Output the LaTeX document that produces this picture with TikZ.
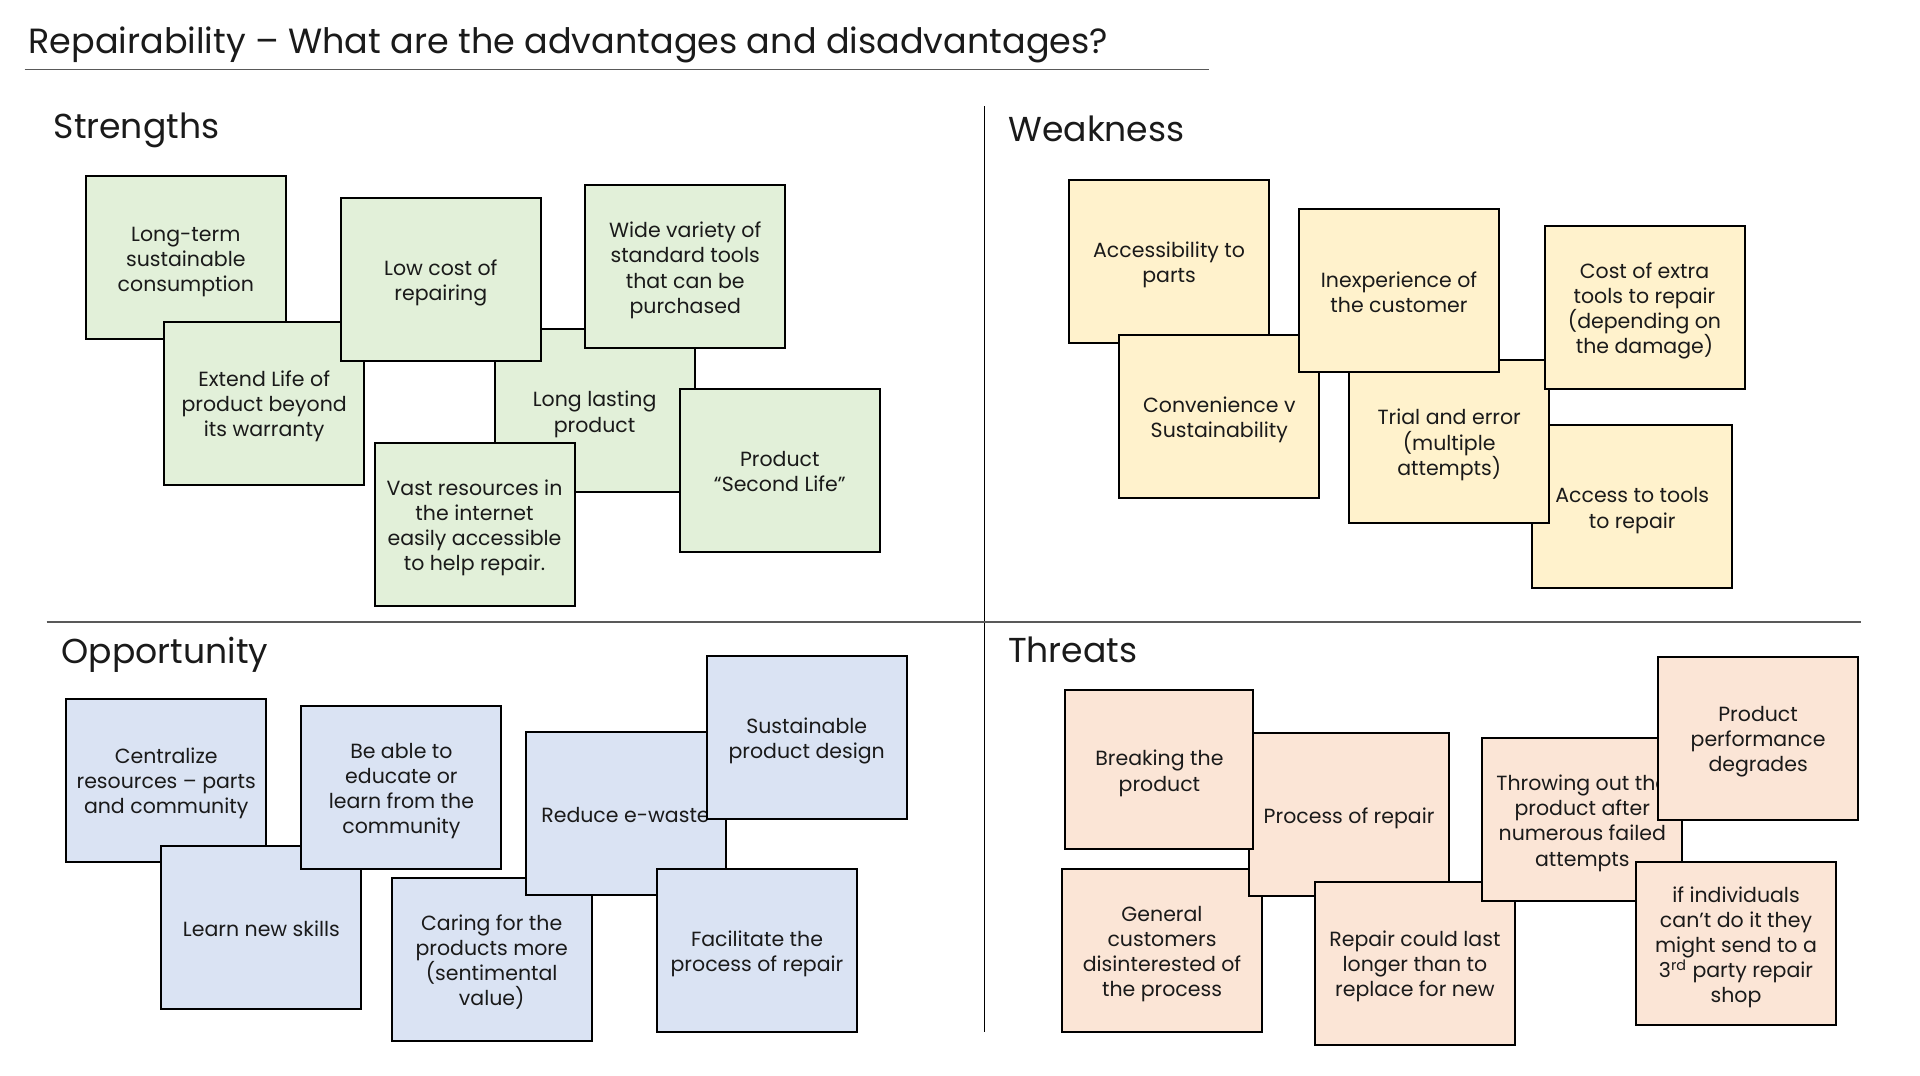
\documentclass[tikz,border=0pt]{standalone}
\usepackage{fontspec}
\setmainfont{Poppins}
\definecolor{sgreen}{HTML}{E2F0D9}
\definecolor{wyellow}{HTML}{FFF2CC}
\definecolor{oblue}{HTML}{DAE3F3}
\definecolor{tpeach}{HTML}{FBE5D6}
\definecolor{txt}{HTML}{1A1A1A}
\definecolor{rule}{HTML}{595959}
\newcommand\pqtop{\rule[-0.22em]{0pt}{\dimexpr1.226em+1pt\relax}}
\newcommand\pqstrut{\rule[-0.22em]{0pt}{1.226em}}
\newcommand\notefont{\fontsize{10.25}{12.57}\selectfont\lineskiplimit=-100pt\relax\lineskip=0pt\relax}
\tikzset{
  note/.style={draw=black, line width=1pt, minimum width=100pt, minimum height=81.5pt,
    anchor=north west, align=center, inner sep=0pt, text=txt,
    font=\notefont},
  heading/.style={anchor=base west, inner sep=0pt, text=txt, font=\fontsize{17.3}{21}\selectfont},
  titletext/.style={anchor=base west, inner sep=0pt, text=txt, font=\fontsize{17.5}{21}\selectfont},
}
\begin{document}
\begin{tikzpicture}[x=0.5pt,y=-0.5pt]
\useasboundingbox (0,0) rectangle (1920,1075);
\fill[white] (0,0) rectangle (1920,1075);

% title and rules
\node[titletext] (title) at (28,53.3) {Repairability – What are the advantages and disadvantages?};
\coordinate (ul1) at (24.5,69.3);
\coordinate (ul2) at (1208.6,69.3);
\draw[rule, line width=0.75pt] (ul1) -- (ul2);
\coordinate (v1) at (984.4,106.5);
\coordinate (v2) at (984.4,1031.5);
\draw[black, line width=0.65pt] (v1) -- (v2);
\coordinate (h1) at (46.5,622);
\coordinate (h2) at (1861.4,622);
\draw[rule, line width=0.8pt] (h1) -- (h2);

% headings
\node[heading] (hs) at (53.3,138.3) {Strengths};
\node[heading] (hw) at (1008,141.5) {Weakness};
\node[heading] (ho) at (61.2,663.3) {Opportunity};
\node[heading] (ht) at (1007.7,662.7) {Threats};

% Strengths
\node[note, fill=sgreen] (lt) at (84.8,175.3) {\pqtop Long-term\\sustainable\\consumption\pqstrut};
\node[note, fill=sgreen] (el) at (163.2,320.6) {\pqtop Extend Life of\\product beyond\\its warranty\pqstrut};
\node[note, fill=sgreen] (ll) at (493.6,328.4) {\pqtop Long lasting\\product\pqstrut};
\node[note, fill=sgreen] (lc) at (339.8,197.2) {\pqtop Low cost of\\repairing\pqstrut};
\node[note, fill=sgreen] (wv) at (584.2,184.4) {\pqtop Wide variety of\\standard tools\\that can be\\purchased\pqstrut};
\node[note, fill=sgreen] (vr) at (373.5,441.9) {\pqtop Vast resources in\\the internet\\easily accessible\\to help repair.\pqstrut};
\node[note, fill=sgreen] (sl) at (678.8,387.8) {\pqtop Product\\“Second Life”\pqstrut};

% Weakness
\node[note, fill=wyellow] (ap) at (1068.1,178.6) {\pqtop Accessibility to\\parts\pqstrut};
\node[note, fill=wyellow] (at) at (1531.2,424.3) {\pqtop Access to tools\\to repair\pqstrut};
\node[note, fill=wyellow] (cs) at (1118.3,334.1) {\pqtop Convenience v\\Sustainability\pqstrut};
\node[note, fill=wyellow] (te) at (1348.2,358.9) {\pqtop Trial and error\\(multiple\\attempts)\pqstrut};
\node[note, fill=wyellow] (ic) at (1298.0,208.1) {\pqtop Inexperience of\\the customer\pqstrut};
\node[note, fill=wyellow] (ce) at (1543.5,225.2) {\pqtop Cost of extra\\tools to repair\\(depending on\\the damage)\pqstrut};

% Opportunity
\node[note, fill=oblue] (cr) at (65.2,697.6) {\pqtop Centralize\\resources – parts\\and community\pqstrut};
\node[note, fill=oblue] (ln) at (160.4,845.0) {\pqtop Learn new skills\pqstrut};
\node[note, fill=oblue] (ba) at (300.4,704.6) {\pqtop Be able to\\educate or\\learn from the\\community\pqstrut};
\node[note, fill=oblue] (cf) at (390.7,876.7) {\pqtop Caring for the\\products more\\(sentimental\\value)\pqstrut};
\node[note, fill=oblue] (re) at (524.5,731.4) {\pqtop Reduce e-waste\pqstrut};
\node[note, fill=oblue] (sp) at (705.7,655.0) {\pqtop Sustainable\\product design\pqstrut};
\node[note, fill=oblue] (fp) at (656.0,868.0) {\pqtop Facilitate the\\process of repair\pqstrut};

% Threats
\node[note, fill=tpeach] (gc) at (1061.0,868.0) {\pqtop General\\customers\\disinterested of\\the process\pqstrut};
\node[note, fill=tpeach] (pr) at (1248.1,732.0) {\pqtop Process of repair\pqstrut};
\node[note, fill=tpeach, minimum width=94pt, minimum height=79.5pt] (bp) at (1064.4,689.3) {\pqtop Breaking the\\product\pqstrut};
\node[note, fill=tpeach] (rc) at (1313.9,880.7) {\pqtop Repair could last\\longer than to\\replace for new\pqstrut};
\node[note, fill=tpeach] (to) at (1481.3,737.2) {\pqtop Throwing out the\\product after\\numerous failed\\attempts\pqstrut};
\node[note, fill=tpeach] (pp) at (1657.1,655.5) {\pqtop Product\\performance\\degrades\pqstrut};
\node[note, fill=tpeach] (ii) at (1635.0,861.2) {\pqtop if individuals\\can’t do it they\\might send to a\\3\textsuperscript{rd} party repair\\shop\pqstrut};
\end{tikzpicture}
\end{document}
